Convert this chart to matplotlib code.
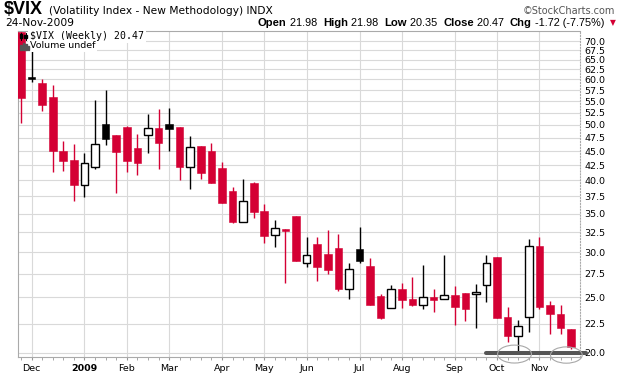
import numpy as np
import pandas as pd
import matplotlib
matplotlib.use("Agg")
import matplotlib.pyplot as plt
import matplotlib.transforms as mtransforms
from matplotlib.patches import Ellipse, Rectangle
from matplotlib.lines import Line2D
from matplotlib.ticker import NullLocator

# weekly $VIX candles, week of 24-Nov-2008 .. week of 23-Nov-2009
opens = [72.7, 60.5, 59.1, 55.9, 45.1, 43.4, 39.2, 42.2, 50.2, 48.0,
         49.6, 45.6, 48.1, 49.4, 50.2, 49.6, 42.3, 45.9, 45.0, 42.0,
         38.3, 33.9, 39.6, 35.4, 32.1, 32.9, 34.7, 28.7, 31.0, 29.8,
         30.5, 25.9, 30.4, 28.4, 25.1, 24.0, 25.9, 24.8, 24.3, 25.0,
         24.8, 25.2, 25.5, 25.3, 26.3, 29.4, 23.1, 21.4, 23.1, 30.7,
         24.3, 23.4, 21.98]
highs = [74.0, 68.6, 60.1, 58.6, 46.9, 46.3, 44.7, 55.2, 57.5, 48.0,
         49.8, 48.2, 52.3, 53.3, 53.5, 49.6, 47.8, 45.9, 46.5, 43.1,
         39.0, 40.3, 39.8, 36.4, 34.1, 32.9, 34.7, 31.9, 31.9, 32.8,
         32.2, 28.7, 33.2, 29.3, 25.3, 26.3, 26.5, 27.1, 28.5, 25.9,
         29.7, 26.2, 25.5, 26.4, 29.7, 29.4, 24.1, 22.8, 31.6, 31.9,
         24.6, 24.3, 21.98]
lows = [50.4, 59.3, 52.9, 41.3, 41.6, 36.9, 37.4, 41.9, 46.2, 38.1,
        41.3, 40.8, 44.7, 41.9, 45.1, 40.0, 38.7, 40.2, 39.6, 36.6,
        33.7, 33.9, 34.4, 31.1, 30.6, 26.5, 28.9, 28.3, 26.7, 27.5,
        25.7, 24.8, 28.7, 24.3, 22.9, 24.0, 24.0, 24.2, 23.9, 23.6,
        24.8, 22.4, 22.7, 22.1, 24.5, 23.0, 20.9, 20.2, 21.8, 23.9,
        21.6, 21.6, 20.35]
closes = [55.7, 60.1, 54.2, 45.0, 43.3, 39.2, 42.9, 46.3, 47.3, 44.9,
          43.3, 42.9, 49.3, 46.4, 49.2, 42.3, 45.8, 41.2, 39.6, 36.6,
          33.9, 36.8, 35.3, 32.0, 33.1, 32.6, 28.9, 29.6, 28.2, 27.9,
          25.9, 28.0, 28.9, 24.3, 23.0, 25.9, 24.7, 24.3, 25.0, 24.7,
          25.2, 24.1, 23.9, 25.6, 28.7, 23.0, 21.4, 22.3, 30.7, 24.1,
          23.4, 22.1, 20.47]
dates = pd.date_range("2008-11-24", periods=len(closes), freq="7D")

y_ticks = np.arange(20.0, 70.01, 2.5)
support = 20.0      # hand drawn line on the chart
support_from = 44   # week of 28-Sep

RED = "#d40034"
GRID = "#d9d9d9"
W, H = 620, 376

fig = plt.figure(figsize=(W / 100, H / 100), dpi=100)
ax = fig.add_axes([18 / W, 1 - 357 / H, 562 / W, 326 / H])

def px(x, y):
    return x / W, 1 - y / H

o = np.array(opens); c = np.array(closes)
prev = np.r_[o[0], c[:-1]]
x = np.arange(len(c))
cols = [RED if c[i] < prev[i] else "black" for i in x]

ax.vlines(x, lows, highs, colors=cols, lw=1.0, zorder=2)
for i in x:
    hollow = c[i] > o[i]
    ax.bar(i, abs(c[i] - o[i]), bottom=min(c[i], o[i]), width=0.72,
           facecolor="white" if hollow else cols[i], edgecolor=cols[i],
           linewidth=1.0 if hollow else 0.4, zorder=3)

ax.set_yscale("log")
ax.set_ylim(19.68, 72.9)
ax.set_xlim(-0.28, 52.84)
ax.set_yticks(y_ticks)
ax.set_yticklabels([f"{v:.1f}" for v in y_ticks])
ax.yaxis.set_minor_locator(NullLocator())
ax.yaxis.tick_right()

# month grid lines at the first week that starts in a new month
starts = [i for i in range(1, len(dates)) if dates[i].month != dates[i - 1].month]
ax.set_xticks(starts)
ax.set_xticklabels(["2009" if dates[i].month == 1 else dates[i].strftime("%b") for i in starts])
for t in ax.get_xticklabels():
    if t.get_text() == "2009":
        t.set_fontweight("bold")
ax.set_xticks(x, minor=True)

ax.tick_params(axis="y", length=0, pad=3, labelsize=6.8)
ax.tick_params(axis="x", which="both", length=2, color="#999999", labelsize=6.8, pad=3)
ax.grid(True, which="major", color=GRID, lw=0.8)
ax.set_axisbelow(True)
for s in ax.spines.values():
    s.set_color("#aaaaaa")
    s.set_linewidth(0.8)
ax.spines["right"].set_linestyle(":")

# hand drawn annotations
ax.plot([support_from, 53.45], [support, support], color="#555555", lw=2.9,
        solid_capstyle="round", clip_on=False, zorder=6)
blend = mtransforms.blended_transform_factory(ax.transData, ax.transAxes)
for cx, cy, w, h in [(46.65, 0.009, 3.2, 0.055), (51.55, 0.006, 3.0, 0.05)]:
    ax.add_patch(Ellipse((cx, cy), w, h, transform=blend, fill=False,
                         edgecolor="#a8a8a8", lw=0.8, clip_on=False, zorder=7))

# legend lines inside the plot
box = dict(facecolor="white", edgecolor="none", pad=1.2)
fig.text(*px(30, 36), "$VIX (Weekly) 20.47", family="DejaVu Sans Mono", size=7.1,
         va="center", parse_math=False, bbox=box, zorder=10)
fig.text(*px(30, 46), "Volume undef", family="DejaVu Sans", size=6.8,
         va="center", parse_math=False, bbox=box, zorder=10)
for xx, y0, y1, b0, b1 in [(21, 32.5, 39.5, 34, 37.5), (25.5, 33, 39.5, 35, 38)]:
    fig.add_artist(Line2D([xx / W, xx / W], [1 - y0 / H, 1 - y1 / H], color="black", lw=0.7, zorder=11))
    fig.add_artist(Rectangle(px(xx - 1.2, b1), 2.4 / W, (b1 - b0) / H, color="black", zorder=11))
for xx, hh in [(20, 5), (22.5, 7), (25, 6), (27.5, 4)]:
    fig.add_artist(Rectangle(px(xx, 50), 1.6 / W, hh / H, color="#555555", zorder=11))

# header
hkw = dict(va="center", parse_math=False)
fig.text(*px(4, 10), "$VIX", size=13, weight="bold", family="Liberation Sans", **hkw)
fig.text(*px(49, 11), "(Volatility Index - New Methodology) INDX", size=7.7,
         family="DejaVu Sans", **hkw)
fig.text(*px(615, 11), "\u00a9StockCharts.com", size=7.0, ha="right", color="#555555",
         family="DejaVu Sans", **hkw)
fig.text(*px(5, 23), "24-Nov-2009", size=7.7, family="DejaVu Sans", **hkw)

r = fig.canvas.get_renderer()
xpos = 258
pieces = [("Open", "bold"), (" 21.98  ", "normal"), ("High", "bold"), (" 21.98  ", "normal"),
          ("Low", "bold"), (" 20.35  ", "normal"), ("Close", "bold"), (" 20.47  ", "normal"),
          ("Chg", "bold"), (" -1.72 (-7.75%)", "normal")]
for s, wt in pieces:
    t = fig.text(*px(xpos, 23), s, size=8.1 if wt == "bold" else 7.8, weight=wt,
                 family="Liberation Sans", **hkw)
    xpos += t.get_window_extent(renderer=r).width
fig.text(*px(xpos + 6, 23), "\u25bc", size=5.5, color=RED, family="DejaVu Sans", va="center")

fig.savefig("out.png", dpi=100)
